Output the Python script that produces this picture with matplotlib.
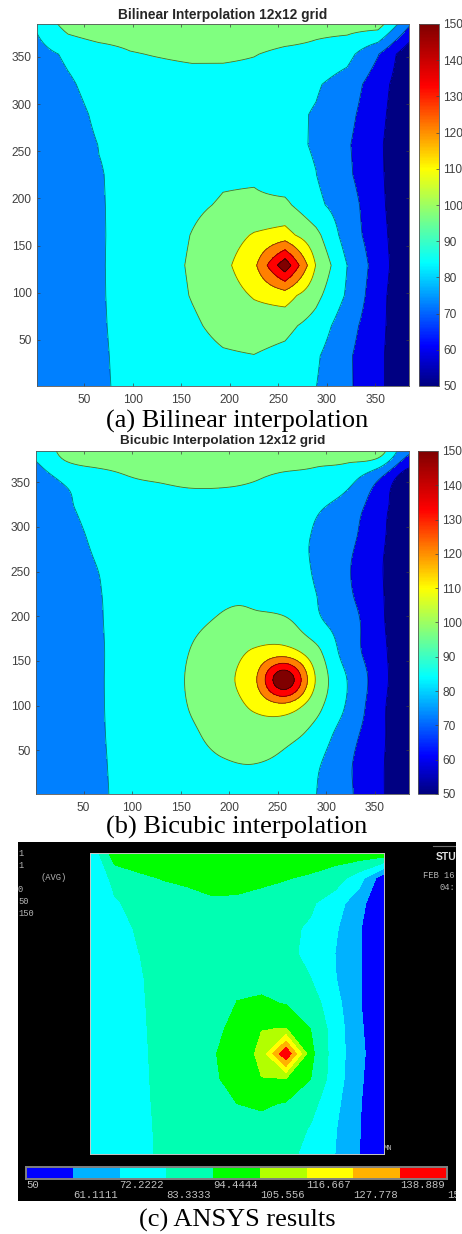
import numpy as np
import matplotlib
matplotlib.use('Agg')
import matplotlib.pyplot as plt
from matplotlib.colors import LinearSegmentedColormap, ListedColormap, Normalize
from matplotlib.cm import ScalarMappable

W, H = 462, 1234

# grid nodes, 12x12 cells of 32 units
grid_x = np.arange(1, 386, 32)
grid_y = np.arange(1, 386, 32)

# values, rows go bottom to top
temps = np.array([
    [74, 78.5, 82.3, 85, 87, 89, 90, 89.5, 87, 83.5, 74.2, 64, 50],
    [74, 78.4, 82.4, 85.2, 87.5, 90.5, 93.3, 94.2, 91.5, 84.8, 74, 64, 50],
    [74.5, 78.8, 82.6, 85.4, 88.5, 92.8, 97.5, 99.5, 97.5, 90, 76.6, 65, 50],
    [74.5, 79, 82.7, 85.6, 89.5, 95, 100, 106.5, 110.5, 97.5, 82, 65.4, 50.5],
    [75, 79.2, 82.75, 85.6, 90, 95.8, 102.4, 113.8, 147, 105, 83.4, 67.2, 51],
    [75, 79.2, 82.75, 85.4, 89.5, 94.8, 100, 106.5, 109.6, 97.5, 78.2, 66, 50.5],
    [74.8, 79, 82.85, 85.2, 88, 92.5, 95.5, 96.5, 96.8, 85.8, 77.5, 64.5, 50.5],
    [74.8, 79, 83, 85, 86.5, 89.5, 93, 93, 87.8, 83.5, 74.2, 63.7, 50.5],
    [75.5, 79.5, 83.5, 84.6, 85, 87.5, 89.5, 90, 86, 82.4, 73.5, 63.2, 51],
    [76, 80, 85, 85.5, 85.5, 86.5, 88, 88.5, 86, 82.5, 75.5, 64.5, 52],
    [77, 82, 87, 87, 87, 87.5, 88.5, 89, 87.5, 84.5, 78.5, 66, 53],
    [79.5, 85, 88.5, 93.5, 95.5, 97.5, 97, 95, 91.5, 91, 87, 72.8, 53],
    [85, 99.2, 104, 102.5, 104, 104, 104, 103.5, 103, 98.2, 98.8, 99.7, 74],
])

# ANSYS nodal solution
ansys_temps = np.array([
    [73, 77, 81.6, 84.5, 86, 88, 89, 88, 85.5, 81, 72.2, 61.1, 50],
    [73, 77.5, 81.8, 84.5, 86, 88, 90.5, 90.5, 89, 82.5, 73, 61.5, 50],
    [73, 77.8, 82, 84.7, 86, 88, 94.4, 96, 93.5, 87, 75.1, 62, 50],
    [73, 78, 82.2, 84.8, 86, 92, 100, 105.3, 105.4, 94.6, 77.6, 63.2, 50],
    [73, 78, 82.4, 84.8, 86, 93.8, 97.7, 108.7, 150, 97.5, 77.8, 64.5, 50],
    [73, 78, 82.6, 84.8, 85.5, 89, 100, 105.2, 105.8, 94.4, 78, 63.2, 50],
    [73, 78, 82.7, 85, 85.5, 88, 94.8, 96.5, 93.8, 89, 76, 62, 50],
    [73, 78, 82.9, 85, 85, 88, 91.5, 90.5, 88.5, 83.5, 72.8, 62, 50],
    [73, 78.5, 83.3, 84.5, 85, 85.5, 88, 88.5, 86.5, 80, 72.2, 62, 50],
    [73, 80.5, 84.3, 85, 85.5, 86, 87, 87, 85.5, 82, 73.8, 62, 50],
    [73, 82, 87, 87, 88, 91, 91.5, 89.5, 88, 85, 77.3, 65, 50],
    [73, 86.5, 92, 95.2, 98, 103, 100, 97.5, 95.1, 92.5, 89, 77, 53.3],
    [73, 101.4, 103, 104, 104, 104, 104, 103.5, 103, 103, 100, 101.9, 102],
])

levels = [61.1111, 72.2222, 83.3333, 94.4444, 105.556, 116.667, 127.778, 138.889]
band_edges = [0] + levels + [200]

matlab_bands = ['#000082', '#0000f0', '#0080ff', '#00ffff', '#80ff80',
                '#ffff00', '#ff8000', '#ff0000', '#800000']
ansys_bands = ['#0000ff', '#00b2ff', '#00ffff', '#00ffb2', '#00ff00',
               '#b2ff00', '#ffff00', '#ffb200', '#ff0000']

ansys_ticks_top = ['50', '72.2222', '94.4444', '116.667', '138.889']
ansys_ticks_bottom = ['61.1111', '83.3333', '105.556', '127.778', '150']
axis_ticks = [50, 100, 150, 200, 250, 300, 350]
cbar_ticks = [50, 60, 70, 80, 90, 100, 110, 120, 130, 140, 150]

jet_like = LinearSegmentedColormap.from_list('jet_like', [
    (0, (0, 0, 0.5)), (0.11, (0, 0, 1)), (0.34, (0, 1, 1)),
    (0.6, (1, 1, 0)), (0.83, (1, 0, 0)), (1, (0.5, 0, 0))])

tick_color = '#404040'
sans = 'Liberation Sans'
serif = 'Liberation Serif'
mono = 'Liberation Mono'


def px_axes(fig, left, top, right, bottom):
    return fig.add_axes([left / W, 1 - bottom / H, (right - left) / W, (bottom - top) / H])


def linear_up(values, factor=8):
    # plain bilinear upsampling, so the lines curve inside a cell
    n = values.shape[0]
    old = np.arange(n)
    new = np.linspace(0, n - 1, (n - 1) * factor + 1)
    rows = np.array([np.interp(new, old, r) for r in values])
    return np.array([np.interp(new, old, c) for c in rows.T]).T


def catmull_rom(values, factor=12):
    # cubic convolution upsampling along both axes, what interp2 'cubic' does
    def along_rows(v):
        n = v.shape[1]
        pos = np.linspace(0, n - 1, (n - 1) * factor + 1)
        i = np.clip(pos.astype(int), 0, n - 2)
        t = (pos - i)[None, :]
        p1, p2 = v[:, i], v[:, i + 1]
        p0 = v[:, np.clip(i - 1, 0, n - 1)]
        p3 = v[:, np.clip(i + 2, 0, n - 1)]
        return 0.5 * (2 * p1 + (p2 - p0) * t + (2 * p0 - 5 * p1 + 4 * p2 - p3) * t ** 2
                      + (3 * p1 - p0 - 3 * p2 + p3) * t ** 3)
    return along_rows(along_rows(values).T).T


def matlab_panel(fig, box, cbar_box, z, title, title_y, title_size):
    x = np.linspace(1, 385, z.shape[1])
    y = np.linspace(1, 385, z.shape[0])
    ax = px_axes(fig, *box)
    ax.contourf(x, y, z, levels=band_edges, colors=matlab_bands)
    ax.contour(x, y, z, levels=levels, colors='k', linewidths=0.6, alpha=0.55)
    ax.set_xlim(1, 385)
    ax.set_ylim(1, 385)
    ax.set_xticks(axis_ticks)
    ax.set_yticks(axis_ticks)
    ax.tick_params(direction='in', top=True, right=True, length=2.5, width=0.5,
                   color=tick_color, labelcolor=tick_color, labelsize=8.6, pad=4)
    ax.tick_params(axis='x', pad=5.5)
    for label in ax.get_xticklabels() + ax.get_yticklabels():
        label.set_family(sans)
    for s in ax.spines.values():
        s.set_linewidth(0.6)
        s.set_color('#555555')
    fig.text((box[0] + box[2]) / 2 / W, 1 - title_y / H, title, family=sans, weight='bold',
             fontsize=title_size, color='#262626', ha='center', va='center')

    cax = px_axes(fig, *cbar_box)
    cb = fig.colorbar(ScalarMappable(Normalize(50, 150), jet_like), cax=cax, ticks=cbar_ticks)
    cb.ax.tick_params(direction='in', length=2.5, width=0.5, color=tick_color,
                      labelcolor=tick_color, labelsize=8.6, pad=3)
    for label in cb.ax.get_yticklabels():
        label.set_family(sans)
    cb.outline.set_linewidth(0.6)
    cb.outline.set_edgecolor('#555555')


fig = plt.figure(figsize=(W / 100, H / 100), dpi=100, facecolor='white')

# (a) bilinear
matlab_panel(fig, (37, 24, 409, 386), (419, 24, 439, 386), linear_up(temps),
             'Bilinear Interpolation 12x12 grid', 14.5, 9.9)

# (b) bicubic
matlab_panel(fig, (36, 451, 409, 794), (418, 451, 438, 794), catmull_rom(temps),
             'Bicubic Interpolation 12x12 grid', 441, 9.7)

# (c) ANSYS screenshot
bg = px_axes(fig, 18, 842, 456, 1201)
bg.set_facecolor('black')
bg.set_xlim(18, 456)
bg.set_ylim(1201, 842)
bg.set_xticks([])
bg.set_yticks([])
for s in bg.spines.values():
    s.set_visible(False)

screen_lines = [(18, 853, '1'), (18, 866, '1'), (41, 878, '(AVG)'), (18, 889, '0'),
                (18, 902, '50'), (18, 913, '150'), (423, 876, 'FEB 16'), (439, 888, '04:')]
for tx, ty, s in screen_lines:
    bg.text(tx, ty, s, family=mono, fontsize=6.3, color='#b4b4b4', va='center', clip_on=True)
bg.text(436, 857, 'STU', family=sans, weight='bold', fontsize=7.5, color='#e0e0e0',
        va='center', clip_on=True)
bg.plot([433, 456], [846, 846], color='#707070', lw=0.8)

ax_c = px_axes(fig, 90, 853, 384, 1154)
ax_c.contourf(grid_x, grid_y, ansys_temps, levels=band_edges, colors=ansys_bands)
ax_c.set_xlim(1, 385)
ax_c.set_ylim(1, 385)
ax_c.set_xticks([])
ax_c.set_yticks([])
for s in ax_c.spines.values():
    s.set_linewidth(0.7)
    s.set_color('#c8c8c8')

bg.plot([91, 91], [1135, 1153], color='#c8d800', lw=1)
bg.text(93, 1128, 'Y', family=mono, fontsize=5.8, color='#c8c870', ha='center', va='center')
bg.text(113, 1148, 'X', family=mono, fontsize=5.8, color='#e8e8e8', ha='center', va='center')
bg.text(388, 1148, 'MN', family=mono, fontsize=5, color='#c0c0c0', ha='center', va='center')
bg.text(290, 1047, 'MX', family=mono, fontsize=5, color='#ffe8c0', ha='center', va='center')

# ANSYS colour legend
leg = px_axes(fig, 26, 1167, 447, 1179)
leg.pcolormesh(np.arange(10), [0, 1], np.arange(9).reshape(1, -1),
               cmap=ListedColormap(ansys_bands), shading='flat')
leg.set_xticks([])
leg.set_yticks([])
for s in leg.spines.values():
    s.set_linewidth(1.4)
    s.set_color('#808080')

step = (447 - 26) / 9
for i, s in enumerate(ansys_ticks_top):
    bg.text(26 + 2 * i * step, 1184.5, s, family=mono, fontsize=7.7, color='#c0c0c0',
            va='center', clip_on=True)
for i, s in enumerate(ansys_ticks_bottom):
    bg.text(26 + (2 * i + 1) * step, 1194.5, s, family=mono, fontsize=7.7, color='#c0c0c0',
            va='center', clip_on=True)

# captions
fig.text(237 / W, 1 - 421 / H, '(a) Bilinear interpolation', family=serif, fontsize=19,
         color='black', ha='center', va='center')
fig.text(237 / W, 1 - 827 / H, '(b) Bicubic interpolation', family=serif, fontsize=19,
         color='black', ha='center', va='center')
fig.text(237 / W, 1 - 1220 / H, '(c) ANSYS results', family=serif, fontsize=19,
         color='black', ha='center', va='center')

fig.savefig('out.png', dpi=100)
